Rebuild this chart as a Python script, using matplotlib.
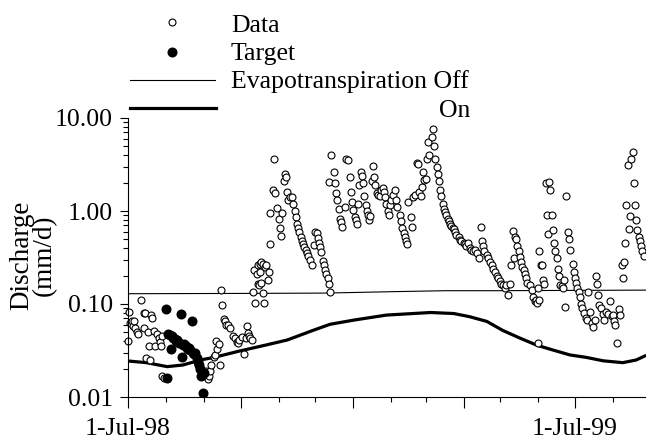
import numpy as np
import matplotlib
matplotlib.use("Agg")
import matplotlib.pyplot as plt
import matplotlib.dates as mdates
from matplotlib.lines import Line2D
from matplotlib.ticker import FixedLocator, FuncFormatter, LogLocator, NullFormatter

plt.rcParams['font.family'] = ['Liberation Serif', 'DejaVu Serif']
plt.rcParams['font.size'] = 18.5

start = np.datetime64('1998-07-01')
end_day = 423

# observed discharge (days after 1-Jul-98, mm/d)
data_days = [0, 1, 2, 3, 4, 5, 6, 7, 8, 11, 13, 13, 14, 15, 16, 17, 18, 19, 20, 21,
             22, 24, 25, 26, 27, 28, 28, 29,
             64, 65, 66, 67, 68, 70, 71, 72, 73, 74, 75, 76, 77, 78, 79, 80, 82, 83,
             86, 87, 89, 90, 91, 93, 95, 96, 97, 98, 99, 100, 101,
             102, 103, 104, 105, 106, 106, 107, 108, 108, 109, 109, 110, 110, 111, 112,
             113, 114, 115, 116, 116, 118, 119, 120, 122, 123, 124, 125, 126, 127, 128,
             129, 130, 131, 132, 134, 135, 136, 137, 138, 139, 140, 141, 142, 143, 144,
             145, 146, 147, 149, 150, 152, 153, 154, 155, 156, 157, 158, 159, 160, 161,
             162, 163, 164, 164, 165, 166, 168, 169, 170, 171, 172, 173, 174, 175, 177,
             178, 180, 181, 182, 183, 184, 185, 186, 187, 188, 189, 190, 191, 192, 193,
             194, 195, 196, 197, 198, 199, 200, 201, 202, 203, 204, 206, 207, 208, 209,
             210, 211, 212, 213, 214, 215, 216, 218, 219, 220, 222, 223, 224, 225, 226,
             227, 228, 229, 231, 232, 233, 234, 236, 237, 238, 239, 240, 241, 242, 243,
             244, 245, 246, 248, 249, 250, 251, 252, 253, 254, 255, 256, 257, 258, 259,
             260, 261, 262, 263, 264, 265, 266, 267, 268, 270, 271, 272, 274, 275, 276,
             278, 279, 280, 282, 283, 285, 287, 288, 289, 290, 291, 293, 294, 296, 297,
             298, 300, 301, 302, 304, 305, 306, 308, 309, 310, 312, 313, 314, 315, 316,
             317, 318, 319, 320, 321, 322, 323, 324, 325, 326, 328, 330, 331, 332, 333,
             334, 335, 335, 336, 336, 337, 338, 339, 340, 341, 342, 343, 344, 345, 346,
             347, 348, 349, 350, 351, 352, 353, 354, 355, 356, 357, 358, 359, 360, 361,
             363, 364, 365, 366, 367, 368, 369, 370, 371, 372, 374, 375, 376, 377, 379,
             380, 381, 382, 383, 384, 385, 386, 388, 389, 390, 392, 394, 395, 396, 397,
             398, 399, 401, 402, 403, 404, 405, 406, 407, 408, 409, 410, 411, 412, 413,
             414, 415, 416, 417, 418, 419, 420, 421]
data_vals = [0.040, 0.083, 0.063, 0.065, 0.058, 0.065, 0.055, 0.050, 0.047, 0.110, 0.055, 0.081, 0.081, 0.026, 0.050, 0.035, 0.025, 0.076, 0.071, 0.051,
             0.035, 0.048, 0.043, 0.039, 0.035, 0.045, 0.017, 0.016,
             0.019, 0.0155, 0.017, 0.019, 0.022, 0.027, 0.028, 0.040, 0.033, 0.037, 0.022, 0.140, 0.098, 0.069, 0.065, 0.059, 0.059, 0.055,
             0.045, 0.043, 0.039, 0.038, 0.041, 0.044, 0.029, 0.043, 0.058, 0.049, 0.045, 0.043, 0.041,
             0.135, 0.23, 0.103, 0.21, 0.166, 0.26, 0.16, 0.27, 0.22, 0.28, 0.17,
             0.13, 0.27, 0.103, 0.25,
             0.26, 0.18, 0.22, 0.44, 0.94, 1.7, 3.6, 1.55, 1.07, 0.83, 0.66, 0.54, 0.96, 2.1, 2.5,
             2.3, 1.6, 1.3, 1.4, 1.4, 1.2, 1.0, 0.87, 0.73, 0.66, 0.60, 0.53, 0.48, 0.44, 0.41,
             0.38, 0.35, 0.33, 0.30, 0.26, 0.43, 0.60, 0.58, 0.51, 0.45, 0.41, 0.36, 0.29, 0.26, 0.23,
             0.21, 0.19, 0.166, 2.05, 0.135, 4.0, 2.6, 2.0, 1.55, 1.3, 1.05, 0.83, 0.76, 0.68, 1.1,
             3.6, 3.5, 2.3, 1.6, 1.25, 1.02, 0.87, 0.80, 0.72, 1.2, 1.9, 2.6, 2.4, 2.0, 1.45,
             1.15, 1.0, 0.90, 0.80, 0.88, 2.1, 3.05, 2.3, 1.9, 1.55, 1.5, 1.45, 1.7, 1.75, 1.6,
             1.4, 1.2, 1.0, 0.90, 1.15, 1.3, 1.5, 1.7, 1.3, 1.1, 0.90, 0.78, 0.66, 0.58, 0.52,
             0.47, 0.44, 1.25, 0.86, 0.68, 1.4, 1.5, 3.3, 3.2, 1.6, 1.45, 1.8, 2.6, 2.15, 2.2,
             3.6, 5.5, 4.0, 6.3, 7.7, 5.0, 3.6, 3.0, 2.5, 2.1, 1.7, 1.45, 1.2, 1.05, 0.97,
             0.90, 0.83, 0.78, 0.72, 0.69, 0.66, 0.64, 0.60, 0.55, 0.52, 0.49, 0.47, 0.45, 0.44, 0.42,
             0.45, 0.40, 0.38, 0.37, 0.38, 0.35, 0.31, 0.68, 0.47, 0.42, 0.37, 0.34, 0.31, 0.28, 0.26,
             0.24, 0.22, 0.20, 0.19, 0.175, 0.166, 0.16, 0.15, 0.16, 0.125, 0.166, 0.26, 0.61, 0.31, 0.52,
             0.50, 0.42, 0.37, 0.32, 0.28, 0.25, 0.23, 0.21, 0.19, 0.17, 0.16, 0.14, 0.12, 0.107, 0.11,
             0.103, 0.038, 0.15, 0.37, 0.11, 0.26, 0.26, 0.18, 0.166, 2.0, 0.90, 0.57, 2.05, 1.7, 0.90,
             0.62, 0.45, 0.37, 0.31, 0.24, 0.20, 0.16, 0.155, 0.15, 0.18, 0.093, 1.45, 0.60, 0.50, 0.38,
             0.27, 0.22, 0.19, 0.17, 0.15, 0.135, 0.12, 0.10, 0.09, 0.081, 0.070, 0.067, 0.135, 0.083, 0.063,
             0.056, 0.067, 0.20, 0.166, 0.125, 0.098, 0.09, 0.079, 0.067, 0.083, 0.079, 0.107, 0.074, 0.076, 0.065,
             0.059, 0.038, 0.089, 0.076, 0.26, 0.19, 0.28, 0.45, 1.15, 3.1, 0.64, 0.88, 3.6, 4.3, 2.0,
             1.15, 0.80, 0.62, 0.53, 0.47, 0.42, 0.37, 0.33]

# calibration target
target_days = [31, 32, 33, 34, 35, 36, 37, 38, 39, 40, 41, 42, 43, 44, 45, 46,
               47, 48, 49, 50, 51, 52, 53, 54, 55, 56, 57, 58, 59, 60, 61, 62]
target_vals = [0.088, 0.016, 0.048, 0.046, 0.033, 0.045, 0.043, 0.042, 0.040, 0.041, 0.039, 0.038, 0.079, 0.027, 0.036, 0.037,
               0.035, 0.034, 0.033, 0.034, 0.032, 0.066, 0.030, 0.029, 0.030, 0.026, 0.024, 0.022, 0.020, 0.017, 0.011, 0.018]

# simulations
off_days = [0, 100, 160, 220, 260, 300, 360, 423]
off_vals = [0.129, 0.130, 0.131, 0.136, 0.139, 0.139, 0.140, 0.141]
on_days = [0, 15, 32, 45, 59, 70, 91, 113, 130, 151, 165, 184, 211, 247, 266, 279, 293,
           306, 320, 334, 347, 361, 374, 388, 404, 415, 422]
on_vals = [0.0244, 0.0234, 0.0212, 0.0221, 0.025, 0.0266, 0.0312, 0.0363, 0.041, 0.052, 0.0605, 0.067, 0.076,
           0.081, 0.079, 0.073, 0.065, 0.052, 0.043, 0.036, 0.032, 0.0283, 0.0267, 0.0245, 0.0234, 0.025, 0.0276]

def to_dates(days):
    return start + np.array(days).astype('timedelta64[D]')

fig = plt.figure(figsize=(6.46, 4.41), dpi=100)
ax = fig.add_axes([128/646, 44/441, 518/646, 279/441])

ax.plot(to_dates(off_days), off_vals, color='black', lw=0.8)
ax.plot(to_dates(on_days), on_vals, color='black', lw=2.3)
ax.plot(to_dates(data_days), data_vals, 'o', mfc='white', mec='black', ms=5, mew=0.8, ls='none', clip_on=False)
ax.plot(to_dates(target_days), target_vals, 'o', color='black', ms=6.2, ls='none')

ax.set_yscale('log')
ax.set_ylim(0.01, 10)
ax.set_xlim(to_dates([0])[0], to_dates([end_day])[0])

ax.yaxis.set_major_locator(FixedLocator([0.01, 0.1, 1, 10]))
ax.yaxis.set_major_formatter(FuncFormatter(lambda v, p: '%.2f' % v))
ax.yaxis.set_minor_locator(LogLocator(base=10, subs=np.arange(2, 10)))
ax.yaxis.set_minor_formatter(NullFormatter())

ax.xaxis.set_major_locator(mdates.MonthLocator(bymonth=[1, 4, 7, 10]))
ax.xaxis.set_minor_locator(mdates.MonthLocator())
def xfmt(v, p):
    d = mdates.num2date(v)
    if d.month == 7:
        return '1-Jul-%02d' % (d.year % 100)
    return ''
ax.xaxis.set_major_formatter(FuncFormatter(xfmt))

for s in ['top', 'right']:
    ax.spines[s].set_visible(False)
ax.tick_params(axis='x', which='major', length=8, width=0.8, pad=7)
ax.tick_params(axis='x', which='minor', length=3.5, width=0.8)
ax.tick_params(axis='y', which='major', length=6, width=0.8, pad=5)
ax.tick_params(axis='y', which='minor', length=3.5, width=0.8)

ax.set_ylabel('Discharge\n(mm/d)', fontsize=19.5, linespacing=0.9, va='center')
ax.yaxis.set_label_coords((33 - 128) / 518, (397 - 255.5) / 279)

# legend drawn by hand above the axes
tf = fig.transFigure
fig.add_artist(Line2D([172/646], [1 - 22/441], marker='o', mfc='white', mec='black', ms=5, mew=0.8, transform=tf))
fig.add_artist(Line2D([172/646], [1 - 52/441], marker='o', color='black', ms=6.2, transform=tf))
fig.add_artist(Line2D([130/646, 215/646], [1 - 80/441] * 2, color='black', lw=0.8, transform=tf))
fig.add_artist(Line2D([130/646, 216/646], [1 - 108/441] * 2, color='black', lw=2.3, transform=tf))
fig.text(231/646, 1 - 32/441, 'Data', va='baseline')
fig.text(231/646, 1 - 60/441, 'Target', va='baseline')
fig.text(231/646, 1 - 88/441, 'Evapotranspiration Off', va='baseline')
fig.text(470/646, 1 - 117/441, 'On', va='baseline', ha='right')

fig.savefig('out.png', dpi=100)
